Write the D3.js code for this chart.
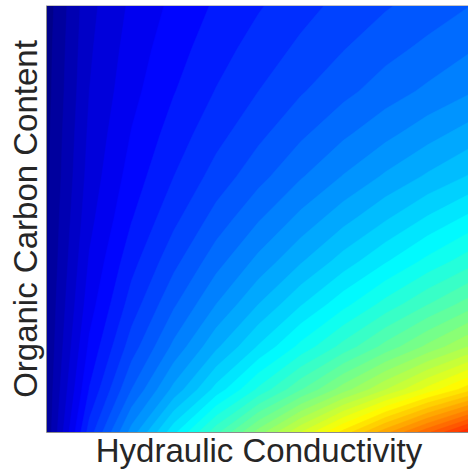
<!DOCTYPE html>
<html>
<head>
<meta charset="utf-8">
<script src="https://d3js.org/d3.v7.min.js"></script>
<style>
  body { margin: 0; background: #fff; }
  text { font-family: "Liberation Sans", Arial, sans-serif; fill: #262626; }
</style>
</head>
<body>
<div id="viz"></div>
<script>

// grid of values (rows: top -> bottom, cols: left -> right)
// x = hydraulic conductivity, y = organic carbon content, value on 0..1 colour scale
var row0  = [0.010, 0.074, 0.104, 0.125, 0.143, 0.158, 0.173, 0.186, 0.198, 0.209, 0.220];
var row1  = [0.012, 0.077, 0.109, 0.132, 0.151, 0.169, 0.184, 0.199, 0.213, 0.225, 0.238];
var row2  = [0.013, 0.080, 0.114, 0.139, 0.161, 0.180, 0.198, 0.214, 0.230, 0.244, 0.258];
var row3  = [0.015, 0.084, 0.121, 0.149, 0.173, 0.195, 0.216, 0.236, 0.254, 0.272, 0.289];
var row4  = [0.016, 0.088, 0.129, 0.160, 0.188, 0.213, 0.238, 0.261, 0.283, 0.303, 0.322];
var row5  = [0.018, 0.094, 0.139, 0.175, 0.208, 0.238, 0.266, 0.293, 0.318, 0.343, 0.366];
var row6  = [0.019, 0.102, 0.153, 0.194, 0.232, 0.266, 0.298, 0.329, 0.358, 0.386, 0.412];
var row7  = [0.021, 0.111, 0.169, 0.217, 0.260, 0.300, 0.338, 0.373, 0.407, 0.439, 0.470];
var row8  = [0.022, 0.124, 0.190, 0.245, 0.296, 0.342, 0.386, 0.427, 0.467, 0.505, 0.542];
var row9  = [0.024, 0.141, 0.220, 0.286, 0.347, 0.404, 0.458, 0.510, 0.559, 0.607, 0.653];
var row10 = [0.025, 0.169, 0.268, 0.354, 0.433, 0.508, 0.579, 0.646, 0.712, 0.775, 0.837];

// contour levels
var levelStep = 0.02;
var levels = d3.range(0, 0.86, levelStep);

var xLabel = "Hydraulic Conductivity";
var yLabel = "Organic Carbon Content";

var rows = [row0, row1, row2, row3, row4, row5, row6, row7, row8, row9, row10];
var nx = row0.length, ny = rows.length;
var values = [].concat.apply([], rows);

var W = 468, H = 475;
var margin = {top: 6, right: -2, bottom: 43, left: 47};
var x0 = margin.left, x1 = W - margin.right;
var y0 = margin.top, y1 = H - margin.bottom;

var svg = d3.select("#viz").append("svg")
    .attr("width", W)
    .attr("height", H);

// jet colour map
var jet = d3.scaleLinear()
    .domain([0, 0.125, 0.375, 0.625, 0.875, 1])
    .range(["#00007f", "#0000ff", "#00ffff", "#ffff00", "#ff0000", "#7f0000"])
    .clamp(true);

// grid index -> pixel (value i sits at contour coordinate i + 0.5)
var xs = d3.scaleLinear().domain([0.5, nx - 0.5]).range([x0, x1]);
var ys = d3.scaleLinear().domain([0.5, ny - 0.5]).range([y0, y1]);

var proj = d3.geoTransform({
  point: function(px, py) { this.stream.point(xs(px), ys(py)); }
});
var path = d3.geoPath(proj);

svg.append("clipPath").attr("id", "plotClip")
  .append("rect")
    .attr("x", x0).attr("y", y0)
    .attr("width", x1 - x0).attr("height", y1 - y0);

var contours = d3.contours()
    .size([nx, ny])
    .thresholds(levels)(values);

svg.append("g")
    .attr("clip-path", "url(#plotClip)")
  .selectAll("path")
  .data(contours)
  .enter().append("path")
    .attr("d", path)
    .attr("fill", function(d) { return jet(d.value + levelStep / 2); })
    .attr("stroke", function(d) { return jet(d.value + levelStep / 2); })
    .attr("stroke-width", 0.5);

// axes box (no ticks)
svg.append("path")
    .attr("d", "M" + (x0 - 0.5) + "," + (y0 - 0.5) + "V" + (y1 + 0.5) + "H" + (x1 + 1))
    .attr("fill", "none")
    .attr("stroke", "#8c8c8c")
    .attr("stroke-width", 1);
svg.append("line")
    .attr("x1", x0).attr("x2", x1)
    .attr("y1", y0 - 0.5).attr("y2", y0 - 0.5)
    .attr("stroke", "#8c8c8c")
    .attr("stroke-opacity", 0.5);

// axis labels
svg.append("text")
    .attr("x", 259)
    .attr("y", 462)
    .attr("text-anchor", "middle")
    .style("font-size", "33px")
    .text(xLabel);

svg.append("text")
    .attr("transform", "translate(37," + ((y0 + y1) / 2) + ") rotate(-90)")
    .attr("text-anchor", "middle")
    .style("font-size", "33px")
    .text(yLabel);

</script>
</body>
</html>
